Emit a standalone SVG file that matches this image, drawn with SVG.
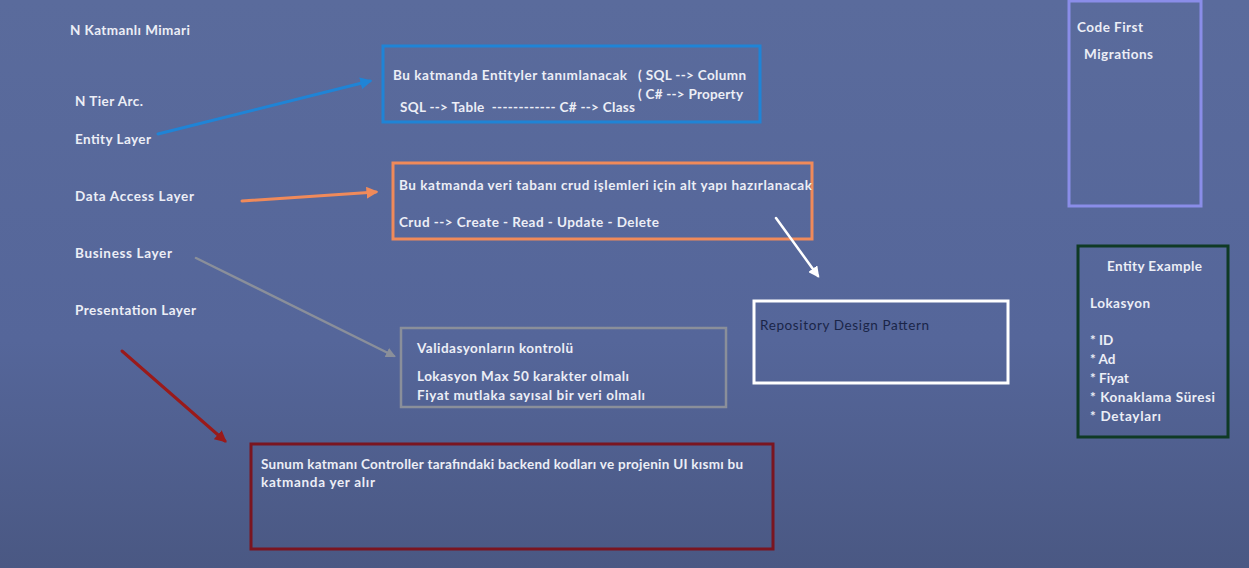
<svg xmlns="http://www.w3.org/2000/svg" width="1249" height="568" viewBox="0 0 1249 568">
<defs>
<linearGradient id="bg" x1="0" y1="0" x2="0" y2="1">
<stop offset="0" stop-color="#5a6b9c"/>
<stop offset="0.6" stop-color="#55669a"/>
<stop offset="1" stop-color="#4a5883"/>
</linearGradient>
<marker id="mBlue" viewBox="0 0 10 10" refX="8" refY="5" markerWidth="4" markerHeight="4" orient="auto"><path d="M0,0 L10,5 L0,10 z" fill="#1f84d6"/></marker>
<marker id="mOrange" viewBox="0 0 10 10" refX="8" refY="5" markerWidth="4" markerHeight="4" orient="auto"><path d="M0,0 L10,5 L0,10 z" fill="#f08a5a"/></marker>
<marker id="mWhite" viewBox="0 0 10 10" refX="8" refY="5" markerWidth="4.5" markerHeight="4.5" orient="auto"><path d="M0,0 L10,5 L0,10 z" fill="#ffffff"/></marker>
<marker id="mGray" viewBox="0 0 10 10" refX="8" refY="5" markerWidth="4" markerHeight="4" orient="auto"><path d="M0,0 L10,5 L0,10 z" fill="#8a8f9a"/></marker>
<marker id="mRed" viewBox="0 0 10 10" refX="8" refY="5" markerWidth="4" markerHeight="4" orient="auto"><path d="M0,0 L10,5 L0,10 z" fill="#9a1a1a"/></marker>
</defs>
<style>
text{font-family:"Lato","Open Sans","DejaVu Sans",sans-serif;font-size:13.5px;font-weight:700;fill:#eceef6}
.dark{fill:#1a2548;font-weight:400}
rect{fill:none}
.c{fill:none;stroke-linecap:round}
</style>
<rect x="0" y="0" width="1249" height="568" fill="url(#bg)" style="fill:url(#bg)"/>

<g id="labels">
<text x="70" y="35" textLength="120">N Katmanlı Mimari</text>
<text x="75" y="106" textLength="68">N Tier Arc.</text>
<text x="75" y="144" textLength="76">Entity Layer</text>
<text x="75" y="201" textLength="119">Data Access Layer</text>
<text x="75" y="258" textLength="97">Business Layer</text>
<text x="75" y="315" textLength="121">Presentation Layer</text>
</g>

<g id="entity-box">
<rect x="383" y="46" width="377" height="76" stroke="#1f84d6" stroke-width="3"/>
<text x="393" y="80" textLength="234">Bu katmanda Entityler tanımlanacak</text>
<text x="638" y="80" textLength="108">( SQL --&gt; Column</text>
<text x="638" y="99" textLength="105">( C# --&gt; Property</text>
<text x="400" y="112" textLength="235">SQL --&gt; Table &#160;------------ C# --&gt; Class</text>
</g>

<g id="dal-box">
<rect x="393" y="163" width="419" height="76" stroke="#f08a5a" stroke-width="3"/>
<text x="399" y="190" textLength="413">Bu katmanda veri tabanı crud işlemleri için alt yapı hazırlanacak</text>
<text x="399" y="227" textLength="260">Crud --&gt; Create - Read - Update - Delete</text>
</g>

<g id="business-box">
<rect x="401" y="328" width="325" height="79" stroke="#8a8f9a" stroke-width="2.5"/>
<text x="417" y="353" textLength="156">Validasyonların kontrolü</text>
<text x="417" y="381" textLength="212">Lokasyon Max 50 karakter olmalı</text>
<text x="417" y="400" textLength="228">Fiyat mutlaka sayısal bir veri olmalı</text>
</g>

<g id="repository-box">
<rect x="754" y="301" width="254" height="82" stroke="#ffffff" stroke-width="3"/>
<text class="dark" x="760" y="330" textLength="169">Repository Design Pattern</text>
</g>

<g id="presentation-box">
<rect x="251" y="444" width="522" height="105" stroke="#7a1520" stroke-width="3"/>
<text x="261" y="469" textLength="482">Sunum katmanı Controller tarafındaki backend kodları ve projenin UI kısmı bu</text>
<text x="261" y="487" textLength="114">katmanda yer alır</text>
</g>

<g id="codefirst-box">
<rect x="1069" y="1" width="132" height="205" stroke="#8a8de8" stroke-width="3"/>
<text x="1077" y="32" textLength="66">Code First</text>
<text x="1084" y="59" textLength="69">Migrations</text>
</g>

<g id="entity-example-box">
<rect x="1078" y="246" width="150" height="191" stroke="#0f3a25" stroke-width="3"/>
<text x="1107" y="271" textLength="95">Entity Example</text>
<text x="1090" y="308" textLength="60">Lokasyon</text>
<text x="1090" y="345">* ID</text>
<text x="1090" y="364">* Ad</text>
<text x="1090" y="383">* Fiyat</text>
<text x="1090" y="402" textLength="125">* Konaklama Süresi</text>
<text x="1090" y="421" textLength="71">* Detayları</text>
</g>

<g id="connectors">
<line class="c" x1="158" y1="134" x2="370" y2="81" stroke="#1f84d6" stroke-width="3" marker-end="url(#mBlue)"/>
<line class="c" x1="242" y1="201" x2="376" y2="192" stroke="#f08a5a" stroke-width="3" marker-end="url(#mOrange)"/>
<line class="c" x1="776" y1="218" x2="818" y2="276" stroke="#ffffff" stroke-width="2.5" marker-end="url(#mWhite)"/>
<line class="c" x1="196" y1="258" x2="394" y2="356" stroke="#8a8f9a" stroke-width="2.5" marker-end="url(#mGray)"/>
<line class="c" x1="122" y1="351" x2="225" y2="441" stroke="#9a1a1a" stroke-width="3" marker-end="url(#mRed)"/>
</g>
</svg>
